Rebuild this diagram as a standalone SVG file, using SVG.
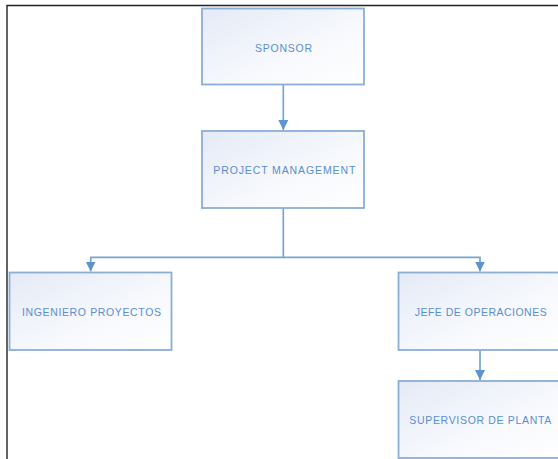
<svg xmlns="http://www.w3.org/2000/svg" width="558" height="459" viewBox="0 0 558 459">
<style>
.box{fill:url(#g);stroke:#8aaed6;stroke-width:1.8}
.lbl{font-family:"Liberation Sans",Arial,sans-serif;font-size:10.5px;fill:#5a8ecf;text-anchor:start}
.con{fill:none;stroke:#78a4d6;stroke-width:1.7}
</style>
<defs>
<linearGradient id="g" x1="0" y1="0" x2="1" y2="1">
<stop offset="0" stop-color="#e4eaf6"/>
<stop offset="0.6" stop-color="#f7f9fd"/>
<stop offset="1" stop-color="#ffffff"/>
</linearGradient>
<marker id="arr" markerUnits="userSpaceOnUse" markerWidth="11" markerHeight="11" refX="10" refY="5.5" orient="auto">
<path d="M0,0.5 L10,5.5 L0,10.5 Z" fill="#5b93d3"/>
</marker>
</defs>
<rect x="0" y="0" width="558" height="459" fill="#ffffff"/>
<path d="M7,459 V5.5 H558" fill="none" stroke="#222" stroke-width="1.4"/>
<g id="connectors">
<path class="con" d="M283.3,85 V130" marker-end="url(#arr)"/>
<path class="con" d="M283.3,208 V257.3 H90.7 V271.5" marker-end="url(#arr)"/>
<path class="con" d="M283.3,257.3 H480 V271.5" marker-end="url(#arr)"/>
<path class="con" d="M480,350 V380" marker-end="url(#arr)"/>
</g>
<g id="sponsor">
<rect class="box" x="202" y="8.5" width="162" height="76"/>
<text class="lbl" x="255" y="51.5" textLength="57" lengthAdjust="spacing">SPONSOR</text>
</g>
<g id="project-management">
<rect class="box" x="202" y="131" width="162" height="77"/>
<text class="lbl" x="213.3" y="174.3" textLength="142" lengthAdjust="spacing">PROJECT MANAGEMENT</text>
</g>
<g id="ingeniero-proyectos">
<rect class="box" x="9.5" y="272.5" width="162" height="77.5"/>
<text class="lbl" x="22" y="315.7" textLength="139" lengthAdjust="spacing">INGENIERO PROYECTOS</text>
</g>
<g id="jefe-operaciones">
<rect class="box" x="398.5" y="272.5" width="162" height="77.5"/>
<text class="lbl" x="414.7" y="315.7" textLength="132" lengthAdjust="spacing">JEFE DE OPERACIONES</text>
</g>
<g id="supervisor-planta">
<rect class="box" x="398.5" y="381" width="162" height="77"/>
<text class="lbl" x="409.3" y="424" textLength="142" lengthAdjust="spacing">SUPERVISOR DE PLANTA</text>
</g>
</svg>
